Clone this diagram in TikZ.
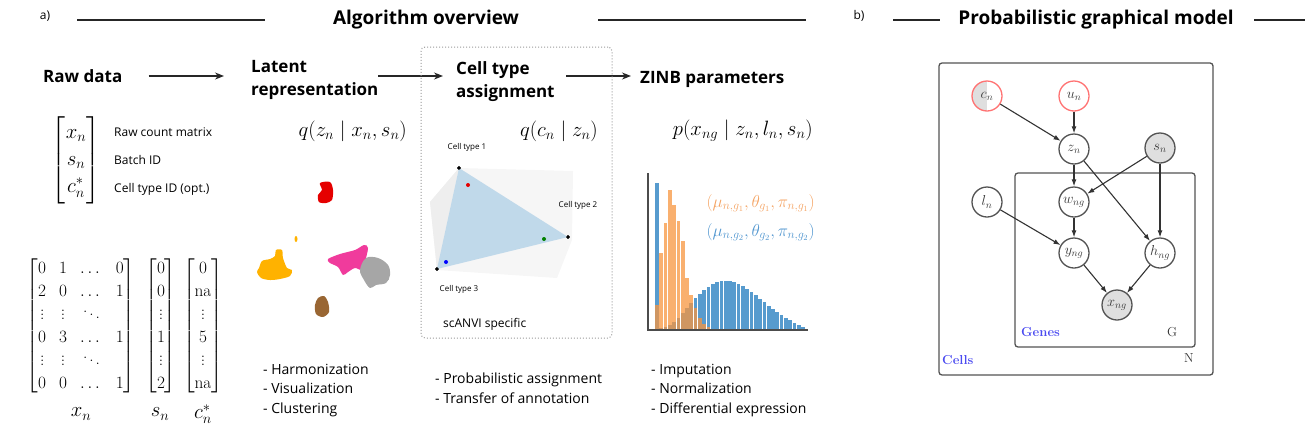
\documentclass[tikz,border=0pt]{standalone}
\usepackage{amsmath}
\usepackage{fontspec}
\newfontfamily\sansf{Open Sans}
\usetikzlibrary{arrows.meta}
\definecolor{histblue}{HTML}{3A8AC6}
\definecolor{historange}{HTML}{F7953F}
\definecolor{labelorange}{HTML}{F4A261}
\definecolor{labelblue}{HTML}{4F95CF}
\definecolor{simplexblue}{HTML}{BBD6E9}
\definecolor{platelabel}{HTML}{4B4BF0}
\begin{document}
\begin{tikzpicture}[x=1pt, y=-1pt,
    title/.style={font=\sansf\bfseries\fontsize{19}{20}\selectfont, inner sep=0},
    head/.style={font=\sansf\bfseries\fontsize{17}{22.5}\selectfont, align=left, inner sep=0, anchor=base west},
    note/.style={font=\sansf\fontsize{12}{13}\selectfont, inner sep=0, anchor=base west},
    usecase/.style={font=\sansf\fontsize{14}{19.5}\selectfont, align=left, inner sep=0, anchor=base west},
    formula/.style={font=\fontsize{20}{20}\selectfont, inner sep=0, anchor=east},
    tiny/.style={font=\sansf\fontsize{8}{9}\selectfont, inner sep=0},
    flow/.style={-{Stealth[length=9pt,width=7pt]}, line width=1.3pt, black!85},
    titlerule/.style={line width=2.2pt, black!85},
    vertexdot/.style={circle, fill=black, inner sep=0, minimum size=3.6pt},
    rv/.style={circle, draw=gray!65!black, line width=1.3pt, minimum size=30pt, inner sep=0,
               text=gray!45!black, font=\fontsize{14}{14}\selectfont},
    edge/.style={-{Latex[length=7pt,width=5pt]}, line width=1.1pt, black!80},
    plate/.style={draw=gray!65!black, line width=1.3pt, rounded corners=3pt, inner sep=0},
    bigmat/.style={font=\fontsize{17.28}{23}\selectfont\setlength\arraycolsep{6.5pt}, inner sep=0}]

\useasboundingbox (0,0) rectangle (1313,437);

% titles
\node[font=\sansf\fontsize{12}{12}\selectfont] (panela) at (45,16) {a)};
\node[title] (algtitle) at (426,20) {Algorithm overview};
\draw[titlerule] (77,20) -- (265,20);
\draw[titlerule] (598,20) -- (806,20);
\node[font=\sansf\fontsize{12}{12}\selectfont] (panelb) at (859,16) {b)};
\node[title] (pgmtitle) at (1096,20) {Probabilistic graphical model};
\draw[titlerule] (893,20) -- (940,20);
\draw[titlerule] (1254,20) -- (1305,20);

% steps of the pipeline
\node[head] (raw) at (43,82) {Raw data};
\node[head] (latent) at (251,95) {Latent\\representation};
\node[head] (cta) at (456,97) {Cell type\\assignment};
\node[head] (zinb) at (640,83) {ZINB parameters};
\draw[flow, shorten <=26pt, shorten >=27pt] (raw.east |- 0,76) -- (latent.west |- 0,76);
\draw[flow] (378,76) -- (443,76);
\draw[flow] (566,76) -- (631,76);

% scANVI box
\node[draw=gray!80, dotted, line width=1pt, rounded corners=4pt, minimum width=191pt,
      minimum height=291pt, inner sep=0] (scanvibox) at (516.5,192.5) {};

% formulas
\node[formula] (qz) at (407,131) {$q(z_n \mid x_n, s_n)$};
\node[formula] (qc) at (598,131) {$q(c_n \mid z_n)$};
\node[formula] (px) at (813,131) {$p(x_{ng} \mid z_n, l_n, s_n)$};

% raw data
\node[font=\fontsize{20.74}{27}\selectfont, inner sep=0] (vec) at (76,160)
  {$\begin{bmatrix} x_n\\ s_n\\ c_n^* \end{bmatrix}$};
\node[note] (rawcount) at (114,136) {Raw count matrix};
\node[note] (batch) at (114,164) {Batch ID};
\node[note] (celltype) at (114,192) {Cell type ID (opt.)};

\node[bigmat] (xmat) at (81,326)
  {$\begin{bmatrix} 0 & 1 & \dots & 0\\ 2 & 0 & \dots & 1\\ \vdots & \vdots & \ddots & \\
    0 & 3 & \dots & 1\\ \vdots & \vdots & \ddots & \\ 0 & 0 & \dots & 1 \end{bmatrix}$};
\node[bigmat] (smat) at (161,326)
  {$\begin{bmatrix} 0\\ 0\\ \vdots\\ 1\\ \vdots\\ 2 \end{bmatrix}$};
\node[bigmat] (cmat) at (203,326)
  {$\begin{bmatrix} 0\\ \mathrm{na}\\ \vdots\\ 5\\ \vdots\\ \mathrm{na} \end{bmatrix}$};
\node[font=\fontsize{20.74}{20}\selectfont] (xlab) at (81,414) {$x_n$};
\node[font=\fontsize{20.74}{20}\selectfont] (slab) at (160,414) {$s_n$};
\node[font=\fontsize{20.74}{20}\selectfont] (clab) at (203,414) {$c_n^*$};

% embedding clusters
\fill[red!90!black] plot[smooth cycle] coordinates {(320,183) (330,182) (333,190) (332,200) (326,203) (319,202) (318,195) (322,190)};
\fill[orange!60!yellow] plot[smooth cycle, tension=0.5] coordinates {(259,268) (262,261) (270,259) (275,256) (276,250) (282,250) (283,258) (287,268) (292,270) (290,276) (280,279) (270,280) (261,278) (257,272)};
\fill[orange!60!yellow] (296,239) ellipse (1.5 and 3);
\fill[magenta!70!pink] plot[smooth cycle, tension=0.5] coordinates {(328,259) (340,254) (355,250) (364,245) (368,248) (365,262) (362,270) (355,268) (348,272) (343,275) (338,267) (330,263)};
\fill[gray!70] plot[smooth cycle, tension=0.6] coordinates {(366,258) (378,258) (388,265) (390,275) (386,283) (376,285) (370,288) (364,280) (360,270)};
\fill[brown!80!black] plot[smooth cycle] coordinates {(318,298) (324,296) (328,302) (329,312) (323,317) (316,314) (315,305)};

\node[usecase] (latentuse) at (263,413) {- Harmonization\\- Visualization\\- Clustering};

% simplex
\fill[gray!7] (430,202) -- (459,168) -- (573,171) -- (572,240) -- (557,278) -- (437,270) -- cycle;
\fill[gray!13] (430,202) -- (459,168) -- (437,270) -- cycle;
\node[vertexdot] (ct1) at (459,168) {};
\node[vertexdot] (ct2) at (568,237) {};
\node[vertexdot] (ct3) at (437,269) {};
\fill[simplexblue, opacity=0.9] (ct1.center) -- (ct2.center) -- (ct3.center) -- cycle;
\node[vertexdot] at (459,168) {};
\node[vertexdot] at (568,237) {};
\node[vertexdot] at (437,269) {};
\fill[red!90!black] (468,185) circle (2);
\fill[green!50!black] (544,239) circle (2);
\fill[blue] (446,262) circle (2);
\node[tiny] (ct1lab) at (467,147) {Cell type 1};
\node[tiny] (ct2lab) at (578,205) {Cell type 2};
\node[tiny] (ct3lab) at (459,289) {Cell type 3};
\node[font=\sansf\fontsize{12}{12}\selectfont, inner sep=0, anchor=base west] (scanvi) at (443,327) {scANVI specific};

\node[usecase] (ctause) at (435,403) {- Probabilistic assignment\\- Transfer of annotation};

% ZINB histogram
\foreach \h [count=\i from 0] in {147,2,3,5,8,12,17,22,27,32,36,40,43,46,48,49,49,49,48,46,44,41,38,35,31,28,24,21,18,15,12,10,7,5,3}
  \fill[histblue, opacity=0.85] ({655+4.3*\i},329.5) rectangle ++(3.7,-\h);
\foreach \h [count=\i from 0] in {25,77,107,140,125,109,89,52,35,22,12,6,3,1}
  \fill[historange, opacity=0.75] ({655+4.3*\i},329.5) rectangle ++(3.7,-\h);
\draw[gray!60!black, line width=1.2pt] (648,173) -- (648,330) -- (808,330);
\node[font=\fontsize{17}{17}\selectfont, text=labelorange, inner sep=0, anchor=east] (g1) at (815,203)
  {$(\mu_{n,g_1},\theta_{g_1},\pi_{n,g_1})$};
\node[font=\fontsize{17}{17}\selectfont, text=labelblue, inner sep=0, anchor=east] (g2) at (815,232)
  {$(\mu_{n,g_2},\theta_{g_2},\pi_{n,g_2})$};

\node[usecase] (zinbuse) at (651,413) {- Imputation\\- Normalization\\- Differential expression};

% graphical model
\node[plate, minimum width=274pt, minimum height=312pt] (cells) at (1076,219) {};
\node[plate, minimum width=180pt, minimum height=174pt] (genes) at (1105,260) {};
\node[font=\bfseries\fontsize{13}{13}\selectfont, text=platelabel, inner sep=0, anchor=west] (cellslab) at (942,360) {Cells};
\node[font=\bfseries\fontsize{13}{13}\selectfont, text=platelabel, inner sep=0, anchor=west] (geneslab) at (1021,332) {Genes};
\node[font=\fontsize{13}{13}\selectfont, text=black!80] (glab) at (1172,332) {G};
\node[font=\fontsize{13}{13}\selectfont, text=black!80] (nlab) at (1189,358) {N};

\node[rv, draw=red!55, path picture={\fill[gray!25] (path picture bounding box.south west) rectangle (path picture bounding box.north);}] (cn) at (987,96) {$c_n$};
\node[rv, draw=red!55] (un) at (1074,96) {$u_n$};
\node[rv] (zn) at (1074,149) {$z_n$};
\node[rv, fill=gray!25] (sn) at (1160,148) {$s_n$};
\node[rv] (ln) at (987,202) {$l_n$};
\node[rv] (wng) at (1074,202) {$w_{ng}$};
\node[rv] (yng) at (1074,253) {$y_{ng}$};
\node[rv] (hng) at (1160,253) {$h_{ng}$};
\node[rv, fill=gray!25] (xng) at (1117,305) {$x_{ng}$};

\draw[edge] (cn) -- (zn);
\draw[edge] (un) -- (zn);
\draw[edge] (zn) -- (wng);
\draw[edge] (sn) -- (wng);
\draw[edge] (zn) -- (hng);
\draw[edge] (sn) -- (hng);
\draw[edge] (ln) -- (yng);
\draw[edge] (wng) -- (yng);
\draw[edge] (yng) -- (xng);
\draw[edge] (hng) -- (xng);
\end{tikzpicture}
\end{document}
